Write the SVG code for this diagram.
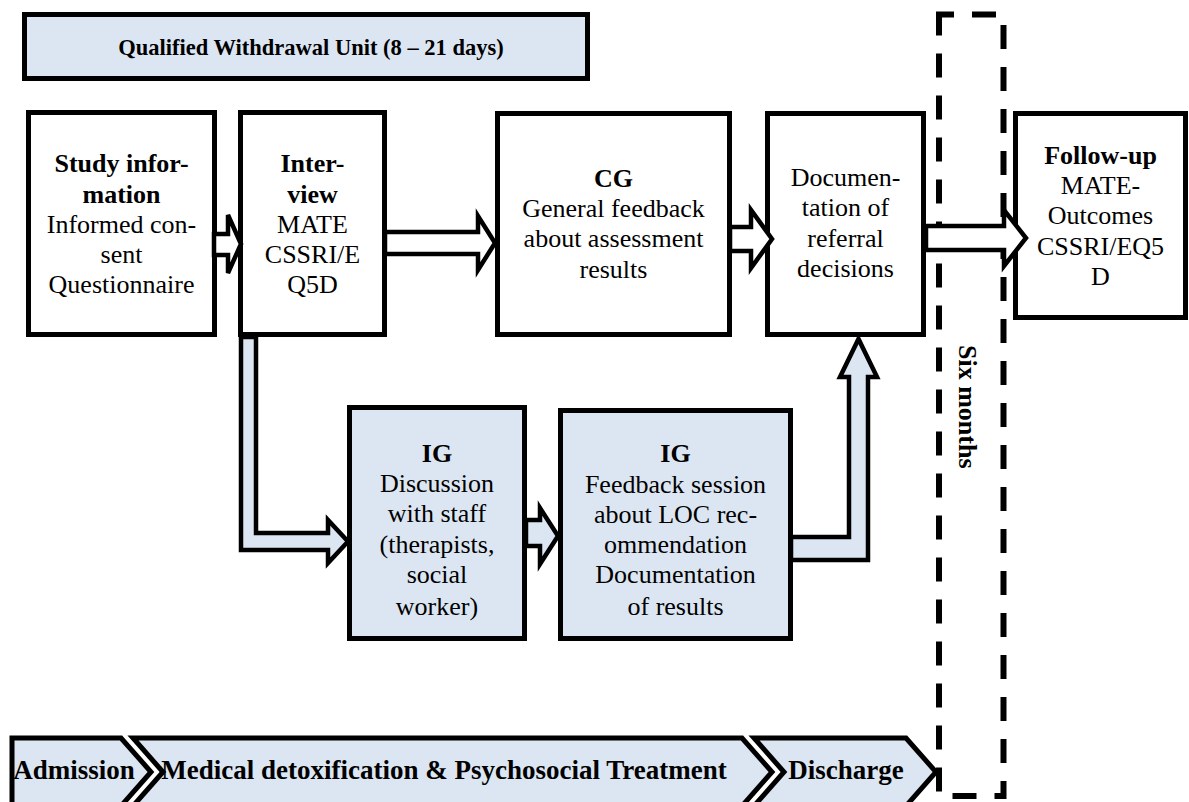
<svg xmlns="http://www.w3.org/2000/svg" width="1189" height="802" viewBox="0 0 1189 802">
  <style>
    .box { fill: #ffffff; stroke: #000000; stroke-width: 5; }
    .boxb { fill: #dce6f2; stroke: #000000; stroke-width: 5; }
    .arr { fill: #ffffff; stroke: #000000; stroke-width: 4.5; stroke-linejoin: miter; }
    .arrb { fill: #dce6f2; stroke: #000000; stroke-width: 4.5; stroke-linejoin: miter; }
    .chev { fill: #dce6f2; stroke: #000000; stroke-width: 5; stroke-linejoin: miter; }
    .dash { fill: none; stroke: #000000; stroke-width: 6; stroke-dasharray: 24 18; stroke-dashoffset: 9; }
    text { font-family: 'Liberation Serif', serif; font-size: 26px; fill: #000000; text-anchor: middle; }
    text.b { font-weight: bold; }
    text.title { font-weight: bold; font-size: 22.5px; }
    text.phase { font-weight: bold; font-size: 27px; }
  </style>

  <!-- six-month follow-up interval -->
  <g id="six-months">
    <path class="dash" d="M939,14.5 H1003.5 V796 H939 Z"/>
    <text class="b" transform="translate(959,345) rotate(90)" style="text-anchor:start">Six months</text>
  </g>

  <g id="unit-banner">
    <rect class="boxb" x="24.5" y="14.5" width="563" height="64"/>
    <text class="title" x="311" y="55">Qualified Withdrawal Unit (8 – 21 days)</text>
  </g>

  <g id="study-information">
    <rect class="box" x="28.5" y="112.5" width="186" height="222"/>
    <text x="121.5" y="172" class="b">Study infor-</text>
    <text x="121.5" y="203" class="b">mation</text>
    <text x="121.5" y="233">Informed con-</text>
    <text x="121.5" y="263">sent</text>
    <text x="121.5" y="293">Questionnaire</text>
  </g>

  <g id="interview">
    <rect class="box" x="240.5" y="112.5" width="144" height="222"/>
    <text x="312.5" y="172" class="b">Inter-</text>
    <text x="312.5" y="203" class="b">view</text>
    <text x="312.5" y="233">MATE</text>
    <text x="312.5" y="263">CSSRI/E</text>
    <text x="312.5" y="293">Q5D</text>
  </g>

  <g id="cg-feedback">
    <rect class="box" x="497.5" y="113.5" width="232" height="221"/>
    <text x="613.5" y="187" class="b">CG</text>
    <text x="613.5" y="217">General feedback</text>
    <text x="613.5" y="247">about assessment</text>
    <text x="613.5" y="278">results</text>
  </g>

  <g id="documentation">
    <rect class="box" x="767.5" y="113.5" width="156" height="221"/>
    <text x="845.5" y="186">Documen-</text>
    <text x="845.5" y="216">tation of</text>
    <text x="845.5" y="247">referral</text>
    <text x="845.5" y="277">decisions</text>
  </g>

  <g id="follow-up">
    <rect class="box" x="1015.5" y="113.5" width="170" height="204"/>
    <text x="1100.5" y="164" class="b">Follow-up</text>
    <text x="1100.5" y="194">MATE-</text>
    <text x="1100.5" y="224">Outcomes</text>
    <text x="1100.5" y="255">CSSRI/EQ5</text>
    <text x="1100.5" y="285">D</text>
  </g>

  <g id="ig-discussion">
    <rect class="boxb" x="349.5" y="407.5" width="175" height="231"/>
    <text x="437" y="462" class="b">IG</text>
    <text x="437" y="492">Discussion</text>
    <text x="437" y="522">with staff</text>
    <text x="437" y="553">(therapists,</text>
    <text x="437" y="583">social</text>
    <text x="437" y="615">worker)</text>
  </g>

  <g id="ig-feedback">
    <rect class="boxb" x="560.5" y="410.5" width="230" height="228"/>
    <text x="675.5" y="462" class="b">IG</text>
    <text x="675.5" y="493">Feedback session</text>
    <text x="675.5" y="523">about LOC rec-</text>
    <text x="675.5" y="553">ommendation</text>
    <text x="675.5" y="583">Documentation</text>
    <text x="675.5" y="615">of results</text>
  </g>

  <!-- block arrows -->
  <g id="connectors">
    <polygon class="arr" points="214,234 228,234 228,215 241,244 228,273 228,255 214,255"/>
    <polygon class="arr" points="385,232 478,232 478,216 495,243 478,270 478,254 385,254"/>
    <polygon class="arr" points="730,227 751,227 751,210 772,239 751,268 751,251 730,251"/>
    <polygon class="arr" points="926,226 1004,226 1004,210 1026,238 1004,266 1004,250 926,250"/>
    <polygon class="arrb" points="241,337 256,337 256,533 328,533 328,520 348,541.5 328,563 328,550 241,550"/>
    <polygon class="arrb" points="526,520 540,520 540,508 558,536 540,564 540,546 526,546"/>
    <polygon class="arrb" points="791,537 849,537 849,377 840,377 858.5,339 877,377 868,377 868,560 791,560"/>
  </g>

  <!-- treatment phases -->
  <g id="phase-admission">
    <polygon class="chev" points="12,738 121,738 151,772 121,806 12,806"/>
    <text class="phase" x="74" y="779">Admission</text>
  </g>
  <g id="phase-treatment">
    <polygon class="chev" points="133,738 742,738 772,772 742,806 133,806 163,772"/>
    <text class="phase" x="444" y="779">Medical detoxification &amp; Psychosocial Treatment</text>
  </g>
  <g id="phase-discharge">
    <polygon class="chev" points="754,738 906,738 936,772 906,806 754,806 784,772"/>
    <text class="phase" x="846" y="779">Discharge</text>
  </g>
</svg>
